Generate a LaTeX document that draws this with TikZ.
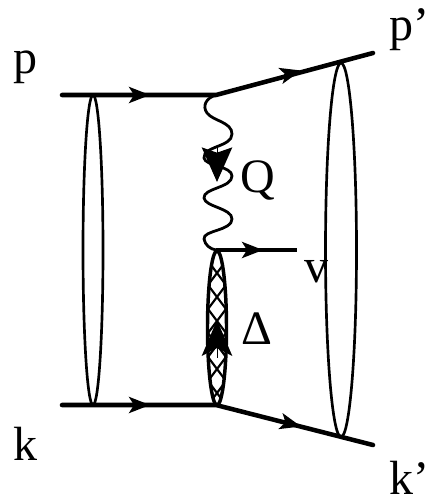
\documentclass[tikz,border=0pt]{standalone}
\usepackage{fontspec}
\setmainfont{Liberation Serif}
\usetikzlibrary{arrows.meta}
\tikzset{
  fermion/.style={line width=3.4pt},
  thin oval/.style={line width=2pt},
  head/.style={-{Stealth[length=26pt,width=23pt,inset=4pt]},line width=0pt},
  headup/.style={-{Stealth[length=27pt,width=23pt,inset=6pt]},line width=0pt},
  smallhead/.style={-{Stealth[length=16pt,width=12.5pt,inset=4pt]},line width=0pt},
  lab/.style={font=\fontsize{36}{36}\selectfont,inner sep=0pt,anchor=base}
}
\begin{document}
\begin{tikzpicture}[x=0.75pt,y=-0.75pt]
\useasboundingbox (0,0) rectangle (430,500);
\coordinate (pin) at (62,95);
\coordinate (pv) at (216,95);
\coordinate (pout) at (373,53);
\coordinate (kin) at (62,405);
\coordinate (kv) at (216,405);
\coordinate (kout) at (373,445);
\coordinate (qv) at (216,250);
\coordinate (vout) at (297,250);
% blob
\begin{scope}
\clip (217,328) ellipse [x radius=9,y radius=77];
\foreach \y in {229,253,277,301,325,349,373,397,421}
  \draw[line width=1.6pt] (202,\y) -- (232,\y+40) (232,\y) -- (202,\y+40);
\end{scope}
\draw[line width=2.6pt] (217,328) ellipse [x radius=9.5,y radius=77];
% ovals
\draw[thin oval] (93,250) ellipse [x radius=10,y radius=155];
\draw[thin oval] (341,250) ellipse [x radius=15.5,y radius=187];
% photon
\draw[line width=2.1pt] (pv) .. controls (206,98) and (202,106) .. (207,113)
 .. controls (213,121) and (232,122) .. (232,134)
 .. controls (232,147) and (203,146) .. (204,158)
 .. controls (205,166) and (232,166) .. (232,176)
 .. controls (232,188) and (203,188) .. (204,198)
 .. controls (205,207) and (232,208) .. (232,219)
 .. controls (232,231) and (203,230) .. (204,239)
 .. controls (205,245) and (210,249) .. (qv);
% lines
\draw[fermion,line cap=round,line join=round] (pin) -- (pv) -- (pout);
\draw[fermion,line cap=round,line join=round] (kin) -- (kv) -- (kout);
\draw[line width=3pt] (qv) -- (vout);
% arrow heads
\draw[smallhead] (130,95) -- (150,95);
\draw[smallhead] (130,405) -- (150,405);
\draw[smallhead] (243,250) -- (263,250);
\path (280,76) coordinate (a1) (301,70.5) coordinate (a2);
\draw[smallhead] (a1) -- (a2);
\path (280,421) coordinate (b1) (301,426.5) coordinate (b2);
\draw[smallhead] (b1) -- (b2);
\draw[head] (217,146) -- (217,182);
\draw[headup] (217,357) -- (217,320);
% labels
\node[lab] (p) at (25,73) {p};
\node[lab] (pp) at (409,40) {p’};
\node[lab] (k) at (25,460) {k};
\node[lab] (kp) at (409,494) {k’};
\node[lab] (Q) at (258,192) {Q};
\node[lab] (v) at (316,282) {v};
\node[lab] (D) at (257,344) {Δ};
\end{tikzpicture}
\end{document}
